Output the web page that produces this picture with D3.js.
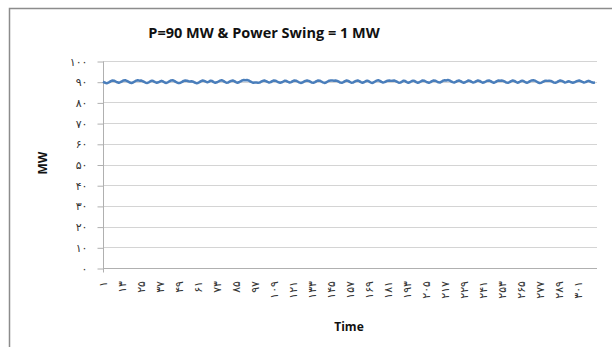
<!DOCTYPE html>
<html><head><meta charset="utf-8">
<script src="https://cdn.jsdelivr.net/npm/d3@7"></script>
<style>body{margin:0;background:#fff}svg{display:block}</style>
</head><body>
<svg id="c" width="612" height="347"></svg>
<script>
const title = "P=90 MW & Power Swing = 1 MW";
const yTitle = "MW";
const xTitle = "Time";
const yTicks = [0,10,20,30,40,50,60,70,80,90,100];
const labelStep = 12;
const power = [
90.0,89.6,89.3,89.4,89.8,90.3,90.6,90.5,90.1,89.7,89.5,89.8,
90.2,90.6,90.7,90.4,90.0,89.6,89.4,89.6,90.1,90.5,90.7,90.5,
90.6,90.3,89.9,89.5,89.4,89.7,90.2,90.5,90.2,89.8,89.5,89.7,
90.1,90.4,90.1,89.6,89.4,89.7,90.2,90.6,90.7,90.4,89.9,89.5,
89.3,89.5,89.9,90.4,90.6,90.5,90.2,90.1,90.2,90.0,89.6,89.3,
89.4,89.8,90.3,90.6,90.4,90.0,89.7,90.0,90.5,90.3,89.8,89.5,
89.7,90.1,90.5,90.7,90.4,89.9,89.5,89.6,90.0,90.4,90.6,90.3,
89.8,89.5,89.7,90.2,90.6,90.8,90.7,90.8,90.6,90.2,89.8,89.5,
89.6,89.6,89.5,89.6,90.0,90.4,90.6,90.3,89.9,89.6,89.8,90.3,
90.6,90.5,90.1,89.7,89.5,89.7,90.1,90.5,90.3,89.9,89.6,89.8,
90.3,90.6,90.5,90.1,89.7,89.4,89.6,90.0,90.4,90.6,90.4,90.0,
89.6,89.5,89.8,90.3,90.6,90.5,90.1,89.7,89.4,89.6,90.1,90.5,
90.6,90.6,90.5,90.6,90.4,90.0,89.6,89.5,89.8,90.3,90.6,90.4,
89.9,89.5,89.6,90.0,90.4,90.6,90.3,89.8,89.5,89.7,90.2,90.5,
90.2,89.7,89.4,89.6,90.1,90.5,90.7,90.4,89.9,89.6,89.8,90.2,
90.5,90.6,90.4,90.5,90.6,90.3,89.9,89.5,89.6,90.0,90.5,90.3,
89.8,89.5,89.7,90.2,90.5,90.3,89.8,89.5,89.7,90.2,90.6,90.5,
90.1,89.7,89.5,89.8,90.3,90.6,90.5,90.1,89.7,89.6,90.0,90.5,
90.7,90.6,90.8,90.6,90.2,89.8,89.6,89.9,90.4,90.6,90.3,89.8,
89.5,89.7,90.2,90.6,90.4,89.9,89.6,89.8,90.3,90.6,90.4,89.9,
89.5,89.7,90.1,90.5,90.6,90.3,89.8,89.5,89.8,90.3,90.6,90.5,
90.6,90.4,90.0,89.6,89.5,89.8,90.3,90.6,90.4,89.9,89.5,89.7,
90.2,90.5,90.2,89.7,89.5,89.8,90.3,90.6,90.7,90.5,90.1,89.6,
89.4,89.5,89.9,90.3,90.5,90.4,90.5,90.4,90.0,89.6,89.5,89.8,
90.3,90.6,90.4,90.0,89.6,89.8,90.2,90.1,89.7,89.5,89.7,90.1,
90.4,90.6,90.3,89.9,89.6,89.8,90.2,90.4,90.1,89.7,89.5,89.6
];
const times = power.map((d,i)=>i+1);
const xLabels = times.filter(t => (t-1) % labelStep === 0);

const persian = n => String(n).replace(/[0-9]/g, d => "۰۱۲۳۴۵۶۷۸۹"[+d]);

const svg = d3.select("#c");
const L = 103, R = 595, T = 61, B = 268;
const x = d3.scaleLinear().domain([1, times.length]).range([L, R]);
const y = d3.scaleLinear().domain([0, 100]).range([B, T]);

// chart frame
svg.append("rect").attr("x",9.5).attr("y",8.5).attr("width",640).attr("height",360)
  .attr("fill","#fff").attr("stroke","#8c8c8c").attr("stroke-width",1.5);

// gridlines
svg.append("g").selectAll("line").data(yTicks.filter(v=>v>0)).join("line")
  .attr("x1",L).attr("x2",597).attr("y1",d=>Math.round(y(d))+0.5).attr("y2",d=>Math.round(y(d))+0.5)
  .attr("stroke","#d4d4d4").attr("stroke-width",1.2);

// y axis
const yAxis = d3.axisLeft(y).tickValues(yTicks).tickSize(6).tickPadding(10).tickFormat(persian);
const gy = svg.append("g").attr("transform",`translate(${L+0.5},0.5)`).call(yAxis);
gy.select(".domain").attr("stroke","#b0b0b0").attr("d",`M-0,${T}V${B+4}`);
gy.selectAll(".tick line").attr("stroke","#b0b0b0");
gy.selectAll(".tick text").attr("font-family","DejaVu Sans").attr("font-size",11).attr("fill","#333");

// x axis baseline
svg.append("line").attr("x1",L).attr("x2",597).attr("y1",B+0.5).attr("y2",B+0.5)
  .attr("stroke","#b0b0b0").attr("stroke-width",1.2);

// x labels
svg.append("g").selectAll("text").data(xLabels).join("text")
  .attr("transform",d=>`translate(${x(d)+4},${B+13}) rotate(-90)`)
  .attr("text-anchor","end").attr("font-family","DejaVu Sans").attr("font-size",11).attr("fill","#333")
  .text(d=>persian(d));

// line
const line = d3.line().x((d,i)=>x(times[i])).y(d=>y(d)).curve(d3.curveLinear);
svg.append("path").datum(power).attr("d",line).attr("fill","none")
  .attr("stroke","#4a7ebb").attr("stroke-width",2.5).attr("stroke-linejoin","round");

// titles
svg.append("text").attr("x",264).attr("y",38).attr("text-anchor","middle")
  .attr("font-family","Open Sans, Liberation Sans, sans-serif").attr("font-weight","bold").attr("font-size",14.5).attr("fill","#111")
  .text(title);
svg.append("text").attr("transform","translate(47,163) rotate(-90)").attr("text-anchor","middle")
  .attr("font-family","Open Sans, Liberation Sans, sans-serif").attr("font-weight","bold").attr("font-size",12).attr("fill","#111")
  .text(yTitle);
svg.append("text").attr("x",349).attr("y",331).attr("text-anchor","middle")
  .attr("font-family","Open Sans, Liberation Sans, sans-serif").attr("font-weight","bold").attr("font-size",12).attr("fill","#111")
  .text(xTitle);
</script>
</body></html>
